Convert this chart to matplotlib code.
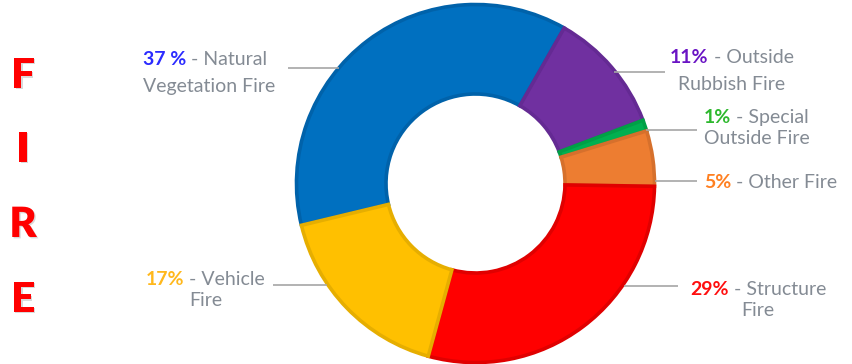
import matplotlib
matplotlib.use("Agg")
import matplotlib.pyplot as plt
import matplotlib.patheffects as pe

# ---- data ----
categories = ["Natural Vegetation Fire", "Outside Rubbish Fire", "Special Outside Fire",
              "Other Fire", "Structure Fire", "Vehicle Fire"]
values = [37, 11, 1, 5, 29, 17]
pct_labels = ["37 %", "11%", "1%", "5%", "29%", "17%"]
label_line1 = [" - Natural", " - Outside", " - Special", " - Other Fire", " - Structure", " - Vehicle"]
label_line2 = ["Vegetation Fire", "Rubbish Fire", "Outside Fire", "", "Fire", "Fire"]
title_letters = ["F", "I", "R", "E"]

# ---- style ----
fill_colors = ["#0070C0", "#7030A0", "#00B050", "#ED7D31", "#FF0000", "#FFC000"]
edge_colors = ["#0062AA", "#642A93", "#00A046", "#D6702C", "#E00000", "#E6AE00"]
pct_colors = ["#2B2BFF", "#6A14C4", "#2DB82D", "#FF8021", "#FF0F0F", "#FFB81C"]
gray_text = "#848B94"
line_gray = "#A6A6A6"
FONT = "Lato"

W, H = 853, 364
fig = plt.figure(figsize=(W / 100, H / 100), dpi=100)
ax = fig.add_axes([0, 0, 1, 1])

cx, cy_top, R = 475.5, 183.5, 179
wedges, _ = ax.pie(values, colors=fill_colors, startangle=193.5, counterclock=False,
                   center=(cx, H - cy_top), radius=R,
                   wedgeprops=dict(width=R * 0.5, linewidth=2.6))
for w, ec in zip(wedges, edge_colors):
    w.set_edgecolor(ec)

ax.set_xlim(0, W)
ax.set_ylim(0, H)
ax.set_aspect("auto")
ax.axis("off")

renderer = fig.canvas.get_renderer()

# layout of annotations (pixel positions, measured from top)
leaders = [((288, 339), 68), ((614, 665), 72), ((646, 697), 129.5),
           ((655, 697), 181), ((624, 678), 286), ((273, 327), 285)]
# (anchor x, align, baseline1, baseline2)
label_pos = [(143, "left", 65, 92), (732, "center", 63, 90), (704, "left", 123, 144),
             (704, "left", 187.5, None), (758, "center", 295, 316), (205.5, "center", 285, 306)]

FS = 14

for i in range(len(values)):
    (x0, x1), ly = leaders[i]
    ax.plot([x0, x1], [H - ly, H - ly], color=line_gray, lw=1.2, solid_capstyle="butt")

    ax_x, align, b1, b2 = label_pos[i]
    t1 = ax.text(0, H - b1, pct_labels[i], color=pct_colors[i], fontsize=FS,
                 fontweight="bold", family=FONT, va="baseline", ha="left")
    t2 = ax.text(0, H - b1, label_line1[i], color=gray_text, fontsize=FS,
                 family=FONT, va="baseline", ha="left")
    w1 = t1.get_window_extent(renderer).width
    w2 = t2.get_window_extent(renderer).width
    if align == "left":
        start = ax_x
    else:
        start = ax_x - (w1 + w2) / 2
    t1.set_x(start)
    t2.set_x(start + w1)
    if label_line2[i]:
        ax.text(ax_x, H - b2, label_line2[i], color=gray_text, fontsize=FS,
                family=FONT, va="baseline", ha=align)

letter_baselines = [88, 162, 237, 312]
for letter, b in zip(title_letters, letter_baselines):
    ax.text(23, H - b, letter, color="#FF0000", fontsize=30, fontweight="heavy",
            family=FONT, va="baseline", ha="center",
            path_effects=[pe.SimplePatchShadow(offset=(1, -1), shadow_rgbFace="#000000", alpha=0.15),
                          pe.Normal()])

fig.savefig("out.png", dpi=100)
